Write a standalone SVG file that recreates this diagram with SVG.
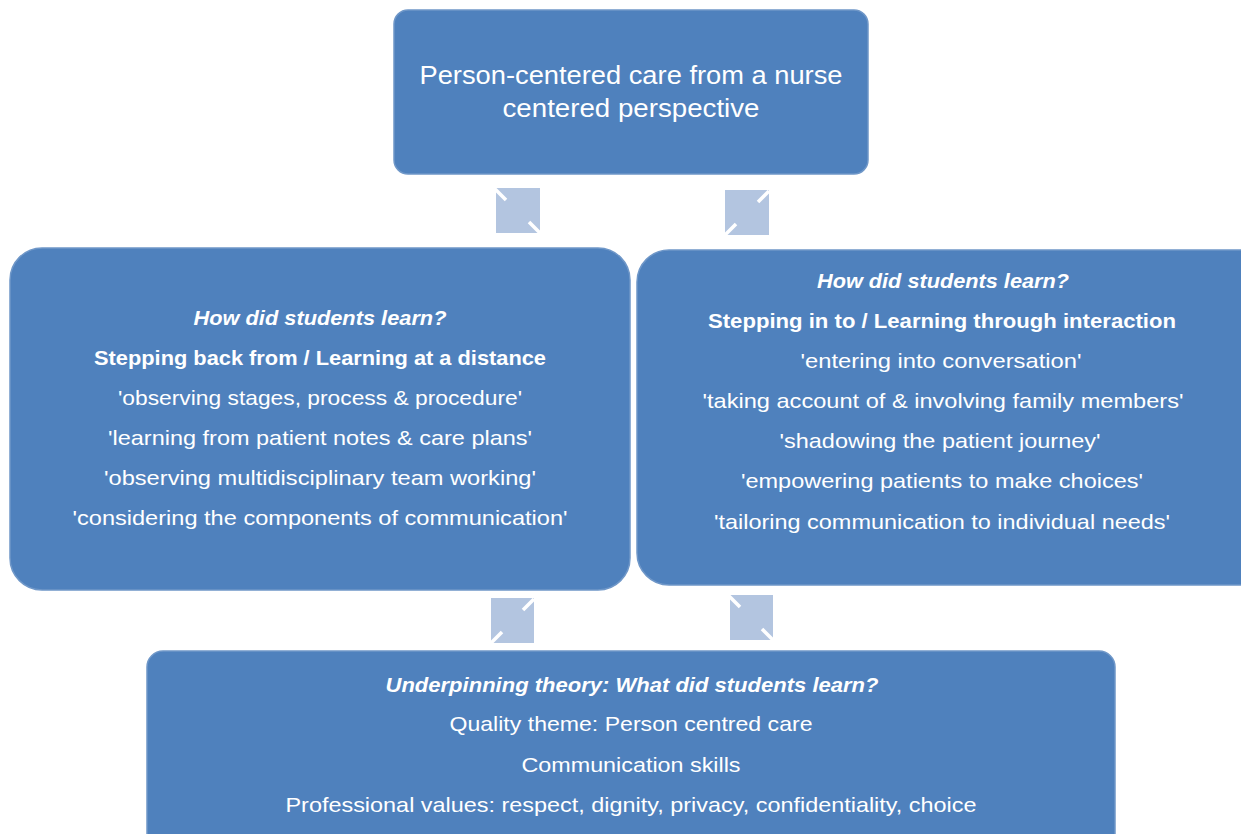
<svg xmlns="http://www.w3.org/2000/svg" width="1241" height="834" viewBox="0 0 1241 834">
<style>
.box{fill:#4f81bd;stroke:#6f97c8;stroke-width:1.5}
.sq{fill:#b3c5e0}
.cut{stroke:#ffffff;stroke-width:3.5;stroke-linecap:butt}
text{font-family:"Liberation Sans",Arial,sans-serif;fill:#ffffff;text-anchor:middle}
.t{font-size:26px}
.n{font-size:21px}
.b{font-size:21px;font-weight:bold}
.i{font-size:21px;font-weight:bold;font-style:italic}
</style>
<rect width="1241" height="834" fill="#ffffff"/>
<g id="connectors">
<g id="c1"><rect class="sq" x="496" y="188" width="44" height="45"/><line class="cut" x1="495" y1="189" x2="506" y2="200"/><line class="cut" x1="529" y1="222" x2="540" y2="233"/></g>
<g id="c2"><rect class="sq" x="725" y="190" width="44" height="45"/><line class="cut" x1="769" y1="191" x2="758" y2="202"/><line class="cut" x1="736" y1="224" x2="725" y2="235"/></g>
<g id="c3"><rect class="sq" x="491" y="598" width="43" height="45"/><line class="cut" x1="534" y1="599" x2="523" y2="610"/><line class="cut" x1="502" y1="632" x2="491" y2="643"/></g>
<g id="c4"><rect class="sq" x="730" y="595" width="43" height="45"/><line class="cut" x1="729" y1="596" x2="740" y2="607"/><line class="cut" x1="762" y1="629" x2="773" y2="640"/></g>
</g>
<g id="top">
<rect class="box" x="394" y="10" width="474" height="164" rx="14"/>
<text class="t" x="631" y="84" textLength="423" lengthAdjust="spacingAndGlyphs">Person-centered care from a nurse</text>
<text class="t" x="631" y="117" textLength="257" lengthAdjust="spacingAndGlyphs">centered perspective</text>
</g>
<g id="left">
<rect class="box" x="10" y="248" width="620" height="342" rx="32"/>
<text class="i" x="320" y="325" textLength="253" lengthAdjust="spacingAndGlyphs">How did students learn?</text>
<text class="b" x="320" y="365" textLength="452" lengthAdjust="spacingAndGlyphs">Stepping back from / Learning at a distance</text>
<text class="n" x="320" y="405" textLength="404" lengthAdjust="spacingAndGlyphs">'observing stages, process &amp; procedure'</text>
<text class="n" x="320" y="445" textLength="424" lengthAdjust="spacingAndGlyphs">'learning from patient notes &amp; care plans'</text>
<text class="n" x="320" y="485" textLength="432" lengthAdjust="spacingAndGlyphs">'observing multidisciplinary team working'</text>
<text class="n" x="320" y="525" textLength="495" lengthAdjust="spacingAndGlyphs">'considering the components of communication'</text>
</g>
<g id="right">
<rect class="box" x="637" y="250" width="640" height="335" rx="32"/>
<text class="i" x="943" y="288" textLength="252" lengthAdjust="spacingAndGlyphs">How did students learn?</text>
<text class="b" x="942" y="328" textLength="468" lengthAdjust="spacingAndGlyphs">Stepping in to / Learning through interaction</text>
<text class="n" x="941" y="368" textLength="281" lengthAdjust="spacingAndGlyphs">'entering into conversation'</text>
<text class="n" x="943" y="408" textLength="481" lengthAdjust="spacingAndGlyphs">'taking account of &amp; involving family members'</text>
<text class="n" x="940" y="448" textLength="321" lengthAdjust="spacingAndGlyphs">'shadowing the patient journey'</text>
<text class="n" x="942" y="488" textLength="402" lengthAdjust="spacingAndGlyphs">'empowering patients to make choices'</text>
<text class="n" x="942" y="529" textLength="456" lengthAdjust="spacingAndGlyphs">'tailoring communication to individual needs'</text>
</g>
<g id="bottom">
<rect class="box" x="147" y="651" width="968" height="200" rx="16"/>
<text class="i" x="632" y="692" textLength="493" lengthAdjust="spacingAndGlyphs">Underpinning theory: What did students learn?</text>
<text class="n" x="631" y="731" textLength="363" lengthAdjust="spacingAndGlyphs">Quality theme: Person centred care</text>
<text class="n" x="631" y="772" textLength="219" lengthAdjust="spacingAndGlyphs">Communication skills</text>
<text class="n" x="631" y="812" textLength="691" lengthAdjust="spacingAndGlyphs">Professional values: respect, dignity, privacy, confidentiality, choice</text>
</g>
</svg>
